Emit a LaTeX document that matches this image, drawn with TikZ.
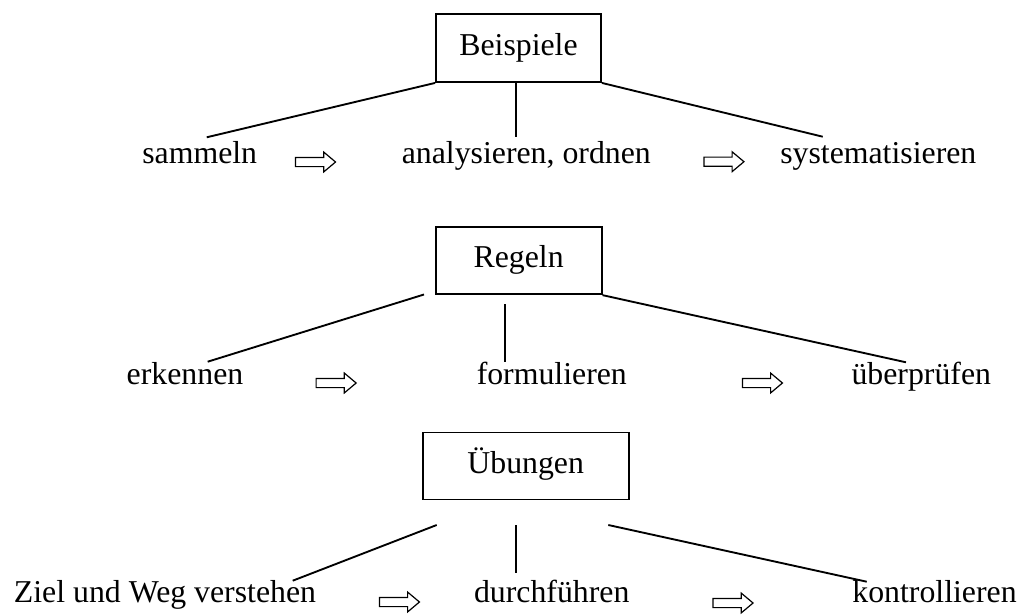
\documentclass[tikz,border=0pt]{standalone}
\usepackage{fontspec}
\setmainfont{Liberation Serif}
\usetikzlibrary{shapes.arrows}

\tikzset{every picture/.style={line width=1.4pt}}
\tikzset{
  titlebox/.style={draw, inner sep=0pt, text height=0.7em, text depth=0.25em},
  word/.style={anchor=base, inner sep=0pt},
  nextarrow/.style={draw, single arrow, line width=0.9pt, inner sep=3pt,
    minimum height=30pt, single arrow head extend=4pt, single arrow tip angle=80}
}

\begin{document}
\begin{tikzpicture}[x=0.75pt,y=0.75pt,yscale=-1,xscale=1]
	\useasboundingbox (0,0) rectangle (1020,614);
	\fontsize{23.85}{28}\selectfont

	%Shape: Rectangle [Beispiele]
	\node [titlebox, minimum width=123.75pt, minimum height=51pt] (bsp) at (518.5,48) {Beispiele};
	% Text Node
	\node [word] (sammeln) at (199.7,163) {sammeln};
	% Text Node
	\node [word] (analysieren) at (526.3,163) {analysieren, ordnen};
	% Text Node
	\node [word] (systematisieren) at (878.3,163) {systematisieren};
	%Block Arrows
	\node [nextarrow] (pa1) at (312.8,162) {};
	\node [nextarrow] (pa2) at (721.2,161.7) {};
	%Straight Lines
	\coordinate (b1) at (206.7,137.3);
	\coordinate (b2) at (515.7,136.7);
	\coordinate (b3) at (822.7,136.7);
	\draw (bsp.south west) -- (b1);
	\draw (bsp.south -| b2) -- (b2);
	\draw (bsp.south east) -- (b3);

	%Shape: Rectangle [Regeln]
	\node [titlebox, minimum width=124.5pt, minimum height=50.25pt] (reg) at (518.6,260.7) {Regeln};
	% Text Node
	\node [word] (erkennen) at (185,384) {erkennen};
	% Text Node
	\node [word] (formulieren) at (551.8,384) {formulieren};
	% Text Node
	\node [word] (ueberpruefen) at (921.3,384) {überprüfen};
	%Block Arrows
	\node [nextarrow] (pa3) at (333.4,383) {};
	\node [nextarrow] (pa4) at (759.7,383) {};
	%Straight Lines
	\coordinate (r0) at (424,294.5);
	\coordinate (r1) at (207.7,361.7);
	\coordinate (rm) at (505.3,304);
	\coordinate (r2) at (505.3,361.7);
	\coordinate (r3) at (906,362.3);
	\draw (r0) -- (r1);
	\draw (rm) -- (r2);
	\draw (reg.south east) -- (r3);

	%Shape: Rectangle [Uebungen]
	\node [titlebox, minimum width=154.5pt, minimum height=50.25pt] (ueb) at (525.7,466) {Übungen};
	% Text Node
	\node [word] (ziel) at (165,602.5) {Ziel und Weg verstehen};
	% Text Node
	\node [word] (durchfuehren) at (551.7,602.5) {durchführen};
	% Text Node
	\node [word] (kontrollieren) at (934.5,602.5) {kontrollieren};
	%Block Arrows
	\node [nextarrow] (pa5) at (396.7,602) {};
	\node [nextarrow] (pa6) at (730.3,603) {};
	%Straight Lines
	\coordinate (u0) at (436.7,525);
	\coordinate (u1) at (292.7,580.7);
	\coordinate (um) at (516,525);
	\coordinate (u2) at (516,572.7);
	\coordinate (un) at (608.3,525);
	\coordinate (u3) at (866.7,581.7);
	\draw (u0) -- (u1);
	\draw (um) -- (u2);
	\draw (un) -- (u3);

\end{tikzpicture}
\end{document}
